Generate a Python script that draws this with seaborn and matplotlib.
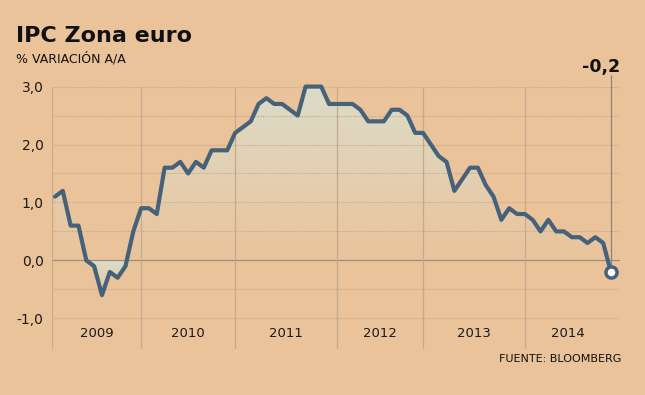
import numpy as np
import pandas as pd
import seaborn as sns
import matplotlib.pyplot as plt
from matplotlib.colors import LinearSegmentedColormap
from matplotlib.patches import PathPatch
from matplotlib.path import Path

# IPC zona euro, % variacion anual, ene-2009 .. dic-2014
ipc = [1.1, 1.2, 0.6, 0.6, 0.0, -0.1, -0.6, -0.2, -0.3, -0.1, 0.5, 0.9,
       0.9, 0.8, 1.6, 1.6, 1.7, 1.5, 1.7, 1.6, 1.9, 1.9, 1.9, 2.2,
       2.3, 2.4, 2.7, 2.8, 2.7, 2.7, 2.6, 2.5, 3.0, 3.0, 3.0, 2.7,
       2.7, 2.7, 2.7, 2.6, 2.4, 2.4, 2.4, 2.6, 2.6, 2.5, 2.2, 2.2,
       2.0, 1.8, 1.7, 1.2, 1.4, 1.6, 1.6, 1.3, 1.1, 0.7, 0.9, 0.8,
       0.8, 0.7, 0.5, 0.7, 0.5, 0.5, 0.4, 0.4, 0.3, 0.4, 0.3, -0.2]
years = ['2009', '2010', '2011', '2012', '2013', '2014']
ytick_vals = [3.0, 2.0, 1.0, 0.0, -1.0]
ytick_labels = ['3,0', '2,0', '1,0', '0,0', '-1,0']
last_label = '-0,2'

df = pd.DataFrame({'mes': np.arange(len(ipc)), 'ipc': ipc})

BG = '#eac39b'
LINE = '#46627a'
GRID = '#bfa78b'
SEP = '#c3aa8c'

sns.set_theme(style='white')
plt.rcParams['font.family'] = ['DejaVu Sans']

fig = plt.figure(figsize=(6.45, 3.95), dpi=100, facecolor=BG)
ax = fig.add_axes([52 / 645, 1 - 349 / 395, (620 - 52) / 645, (349 - 75) / 395])
ax.set_facecolor(BG)

x = df['mes'].values
y = df['ipc'].values
x0, x1 = -0.38, 72.15
y0, y1 = -1.53, 3.2

# gradient fill, light at the top of each piece, fading to background
cmap = LinearSegmentedColormap.from_list('fade', [BG, '#dcdcc9'])
grad = np.linspace(0, 1, 256).reshape(-1, 1)
for mask, top, bot, g in [(y >= 0, 3.0, 0.0, grad), (y <= 0, 0.0, y.min(), grad * 0.9 + 0.1)]:
    coll = ax.fill_between(x, y, 0, where=mask, interpolate=True,
                           facecolor='none', edgecolor='none')
    clip = PathPatch(Path.make_compound_path(*coll.get_paths()),
                     transform=ax.transData, facecolor='none', edgecolor='none')
    ax.add_patch(clip)
    im = ax.imshow(g, cmap=cmap, vmin=0, vmax=1, origin='lower', aspect='auto',
                   extent=(x0, x1, bot, top), zorder=1)
    im.set_clip_path(clip)

# horizontal grid
for v in np.arange(-1.0, 3.01, 0.5):
    if abs(v) < 1e-9:
        ax.axhline(0, color='#9c8e7c', lw=0.9, zorder=2)
    else:
        ax.axhline(v, color=GRID, lw=0.8, ls=(0, (1, 1.2)), zorder=2)

# year separators and labels
edges = [x0, 11, 23, 36, 47, 60, x[-1]]
ax.vlines(edges[:-1], y0, 3.0, color=SEP, lw=0.9, zorder=2)
for i, yr in enumerate(years):
    ax.text((edges[i] + edges[i + 1]) / 2, -1.255, yr, ha='center', va='center',
            fontsize=9.5, color='#1a1a1a')

# stem for last value
ax.vlines(x[-1], y[-1], y1, color='#8c8478', lw=0.9, zorder=2)

sns.lineplot(data=df, x='mes', y='ipc', ax=ax, color=LINE, linewidth=3,
             zorder=4, legend=False)
ax.plot(x[-1], y[-1], 'o', mfc='white', mec=LINE, ms=8, mew=2.5, zorder=5, clip_on=False)

ax.set_xlim(x0, x1)
ax.set_ylim(y0, y1)
ax.set_xticks([])
ax.set_yticks(ytick_vals)
ax.set_yticklabels(ytick_labels, fontsize=10, color='#1a1a1a')
ax.tick_params(axis='y', length=0, pad=6)
ax.set_xlabel('')
ax.set_ylabel('')
for s in ax.spines.values():
    s.set_visible(False)

fig.text(16 / 645, 1 - 42 / 395, 'IPC Zona euro', fontsize=16, fontweight='bold',
         color='#111111', ha='left', va='baseline')
fig.text(16 / 645, 1 - 62.5 / 395, '% VARIACIÓN A/A', fontsize=9, color='#111111',
         ha='left', va='baseline')
fig.text(620 / 645, 1 - 72 / 395, last_label, fontsize=12.5, fontweight='bold',
         color='#111111', ha='right', va='baseline')
fig.text(621 / 645, 1 - 362 / 395, 'FUENTE: BLOOMBERG', fontsize=8, color='#111111',
         ha='right', va='baseline')

fig.savefig('out.png', dpi=100, facecolor=BG)
